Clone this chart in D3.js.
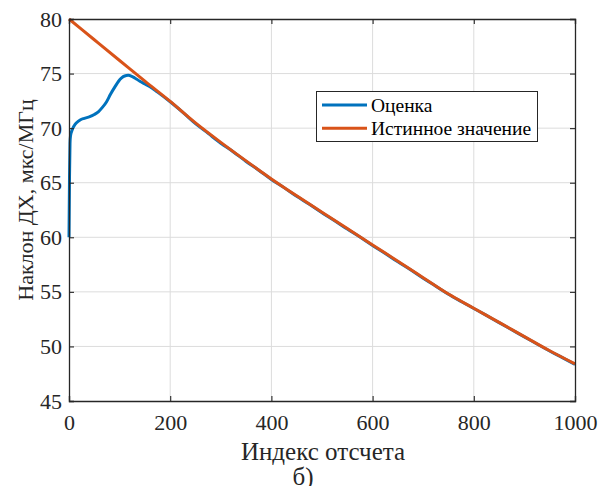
<!DOCTYPE html>
<html><head><meta charset="utf-8">
<script src="https://cdn.jsdelivr.net/npm/d3@7"></script>
<style>body{margin:0;background:#fff}svg{display:block}text{font-family:"Liberation Serif",serif}</style>
</head><body><svg id="c" width="598" height="486"></svg>
<script>
const xTicks = [0,200,400,600,800,1000];
const yTicks = [45,50,55,60,65,70,75,80];
const seriesNames = ["Оценка","Истинное значение"];
const trueIdx = [0,50,100,150,200,250,300,350,400,450,500,550,600,650,700,750,800,850,900,950,1000];
const trueVals = [80.0,78.1,76.2,74.3,72.45,70.48,68.7,67.0,65.35,63.8,62.3,60.8,59.3,57.8,56.3,54.8,53.5,52.2,50.9,49.6,48.4];
const estIdx = [0,1,2,3,6,10,15,22,30,41,50,58,66,74,82,91,98,104,110,117,124,130,140,150,160,175,200,225,250,275,300,325,350,375,400,425,450,475,500,525,550,575,600,625,650,675,700,725,750,775,800,825,850,875,900,925,950,975,1000];
const estVals = [60.0,65.5,68.6,69.3,69.8,70.2,70.5,70.75,70.9,71.05,71.25,71.5,71.9,72.4,73.1,73.8,74.3,74.6,74.78,74.84,74.75,74.6,74.3,74.05,73.8,73.3,72.42,71.45,70.42,69.52,68.62,67.82,66.95,66.15,65.3,64.55,63.75,63.02,62.25,61.52,60.75,60.02,59.25,58.52,57.75,57.02,56.25,55.52,54.78,54.12,53.48,52.84,52.18,51.53,50.88,50.22,49.58,48.97,48.35];

const svg = d3.select("#c");
const m = {l:69, r:575, t:19, b:401};
const x = d3.scaleLinear().domain([0,1000]).range([m.l,m.r]);
const y = d3.scaleLinear().domain([45,80]).range([m.b,m.t]);
const axisCol = "#262626";
const font = "Liberation Serif";

// grid
const g = svg.append("g");
g.selectAll(".gx").data(xTicks.slice(1,-1)).enter().append("line")
 .attr("x1",d=>x(d)).attr("x2",d=>x(d)).attr("y1",m.t).attr("y2",m.b)
 .attr("stroke","#dcdcdc").attr("stroke-width",1);
g.selectAll(".gy").data(yTicks.slice(1,-1)).enter().append("line")
 .attr("y1",d=>y(d)).attr("y2",d=>y(d)).attr("x1",m.l).attr("x2",m.r)
 .attr("stroke","#dcdcdc").attr("stroke-width",1);

// lines
const line = d3.line().x(d=>x(d[0])).y(d=>y(d[1])).curve(d3.curveMonotoneX);
svg.append("path").datum(estIdx.map((d,i)=>[d,estVals[i]]))
 .attr("d",line).attr("fill","none").attr("stroke","#0072BD").attr("stroke-width",3);
svg.append("path").datum(trueIdx.map((d,i)=>[d,trueVals[i]]))
 .attr("d",line).attr("fill","none").attr("stroke","#D95319").attr("stroke-width",3);

// axes
const ax = svg.append("g").attr("transform",`translate(0,${m.b})`)
 .call(d3.axisBottom(x).tickValues(xTicks).tickSize(-5).tickPadding(13).tickFormat(d3.format("d")));
const ay = svg.append("g").attr("transform",`translate(${m.l},0)`)
 .call(d3.axisLeft(y).tickValues(yTicks).tickSize(-5).tickPadding(7));
const axt = svg.append("g").attr("transform",`translate(0,${m.t})`)
 .call(d3.axisTop(x).tickValues(xTicks).tickSize(-5).tickFormat(""));
const ayr = svg.append("g").attr("transform",`translate(${m.r},0)`)
 .call(d3.axisRight(y).tickValues(yTicks).tickSize(-5).tickFormat(""));
[ax,ay,axt,ayr].forEach(a=>{
  a.attr("font-family",font).attr("font-size",22);
  a.selectAll("path").attr("stroke",axisCol).attr("stroke-width",1.3);
  a.selectAll("line").attr("stroke",axisCol).attr("stroke-width",1.1);
  a.selectAll("text").attr("fill",axisCol).style("font-family",font).style("font-size","22px");
});

// labels
svg.append("text").attr("x",323).attr("y",460).attr("text-anchor","middle")
 .style("font-family",font).style("font-size","25px").attr("fill",axisCol).text("Индекс отсчета");
svg.append("text").attr("x",303).attr("y",484.5).attr("text-anchor","middle")
 .style("font-family",font).style("font-size","25px").attr("fill",axisCol).text("б)");
svg.append("text").attr("transform",`translate(33,200) rotate(-90)`).attr("text-anchor","middle")
 .style("font-family",font).style("font-size","22px").attr("fill",axisCol).text("Наклон ДХ, мкс/МГц");

// legend
const lg = svg.append("g");
lg.append("rect").attr("x",316.5).attr("y",91.5).attr("width",221).attr("height",50)
 .attr("fill","#fff").attr("stroke",axisCol).attr("stroke-width",1);
const lc = ["#0072BD","#D95319"];
seriesNames.forEach((n,i)=>{
  const yy = 105 + i*23.3;
  lg.append("line").attr("x1",322).attr("x2",367).attr("y1",yy).attr("y2",yy).attr("stroke",lc[i]).attr("stroke-width",3);
  lg.append("text").attr("x",371).attr("y",yy+6.5).style("font-family",font).style("font-size","19.5px").attr("fill","#000").text(n);
});
</script></body></html>
